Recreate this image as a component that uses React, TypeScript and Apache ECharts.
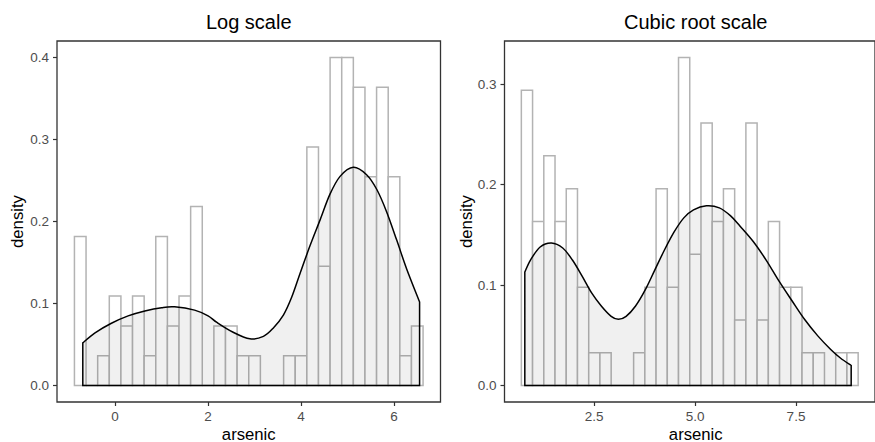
import { useEffect, useRef } from "react";
import * as echarts from "echarts";

// Histogram of the transformed arsenic values (counts per bin)
const sampleSize = 110;
const logBinStart = -0.875;
const logBinWidth = 0.25;
const logCounts = [5, 0, 1, 3, 2, 3, 1, 5, 2, 3, 6, 0, 2, 2, 1, 1, 0, 0, 1, 1, 8, 4, 11, 11, 10, 7, 10, 7, 1, 2];

const cbrtBinStart = 0.694;
const cbrtBinWidth = 0.2782;
const cbrtCounts = [9, 5, 7, 5, 6, 3, 1, 1, 0, 0, 1, 3, 6, 3, 10, 4, 8, 5, 6, 2, 8, 2, 5, 3, 3, 1, 1, 0, 1, 1];

// Kernel density estimate, sampled along the data range
const logDensityX = [-0.695, -0.44, -0.08, 0.28, 0.64, 1.0, 1.28, 1.71, 2.0, 2.19, 2.54, 2.9, 3.19, 3.4, 3.62, 3.8, 3.98, 4.19, 4.41, 4.62, 4.84, 5.125, 5.41, 5.63, 5.84, 6.06, 6.27, 6.55];
const logDensityY = [0.052, 0.064, 0.076, 0.085, 0.091, 0.095, 0.096, 0.092, 0.085, 0.077, 0.065, 0.057, 0.06, 0.07, 0.086, 0.108, 0.137, 0.17, 0.202, 0.233, 0.255, 0.266, 0.257, 0.239, 0.212, 0.177, 0.1425, 0.102];

const cbrtDensityX = [0.78, 0.92, 1.16, 1.44, 1.72, 1.96, 2.2, 2.44, 2.68, 2.92, 3.1, 3.29, 3.52, 3.76, 4.0, 4.24, 4.48, 4.72, 4.96, 5.28, 5.6, 5.88, 6.12, 6.44, 6.76, 7.08, 7.4, 7.72, 8.04, 8.36, 8.6, 8.867];
const cbrtDensityY = [0.113, 0.125, 0.138, 0.142, 0.137, 0.125, 0.109, 0.092, 0.079, 0.069, 0.066, 0.069, 0.079, 0.095, 0.115, 0.135, 0.153, 0.167, 0.175, 0.179, 0.177, 0.169, 0.1585, 0.1435, 0.125, 0.104, 0.0845, 0.0655, 0.0495, 0.036, 0.0275, 0.02];

const logXTicks = [0, 2, 4, 6];
const cbrtXTicks = [2.5, 5.0, 7.5];
const logYTicks = [0, 0.1, 0.2, 0.3, 0.4];
const cbrtYTicks = [0, 0.1, 0.2, 0.3];

const panelTitles = ["Log scale", "Cubic root scale"];
const xTitle = "arsenic";
const yTitle = "density";

const FONT = "'Liberation Sans', Arial, Helvetica, sans-serif";

function binRows(start: number, width: number, counts: number[]) {
  return counts.map((c, i) => [start + i * width, start + (i + 1) * width, c / (sampleSize * width)]);
}

function expand(lo: number, hi: number) {
  const pad = (hi - lo) * 0.05;
  return [lo - pad, hi + pad];
}

// Closed outline of a density: baseline, left edge, Catmull-Rom curve through the samples, right edge
function densityPath(pts: number[][], base0: number[], baseN: number[]) {
  const f = (v: number) => v.toFixed(2);
  let d = `M${f(base0[0])},${f(base0[1])} L${f(pts[0][0])},${f(pts[0][1])}`;
  for (let i = 0; i < pts.length - 1; i++) {
    const p0 = pts[i - 1] || pts[i];
    const p1 = pts[i];
    const p2 = pts[i + 1];
    const p3 = pts[i + 2] || pts[i + 1];
    const c1 = [p1[0] + (p2[0] - p0[0]) / 6, p1[1] + (p2[1] - p0[1]) / 6];
    const c2 = [p2[0] - (p3[0] - p1[0]) / 6, p2[1] - (p3[1] - p1[1]) / 6];
    d += ` C${f(c1[0])},${f(c1[1])} ${f(c2[0])},${f(c2[1])} ${f(p2[0])},${f(p2[1])}`;
  }
  d += ` L${f(baseN[0])},${f(baseN[1])} Z`;
  return d;
}

export default function App() {
  const ref = useRef<HTMLDivElement>(null);

  useEffect(() => {
    document.body.style.margin = "0";
    if (!ref.current) return;
    const chart = echarts.init(ref.current, undefined, { renderer: "svg" });

    const logBins = binRows(logBinStart, logBinWidth, logCounts);
    const cbrtBins = binRows(cbrtBinStart, cbrtBinWidth, cbrtCounts);

    const logX = expand(logBinStart, logBinStart + logCounts.length * logBinWidth);
    const cbrtX = expand(cbrtBinStart, cbrtBinStart + cbrtCounts.length * cbrtBinWidth);
    const logY = expand(0, Math.max(...logBins.map((b) => b[2])));
    const cbrtY = expand(0, Math.max(...cbrtBins.map((b) => b[2])));

    const grids = [
      { left: 57, top: 41, width: 383.5, height: 361 },
      { left: 504.5, top: 41, width: 382.5, height: 361 },
    ];

    const tickStyle = { color: "#333333", width: 1.2 };

    const xAxis = (gi: number, range: number[], ticks: number[], digits: number) => ({
      type: "value" as const,
      gridIndex: gi,
      min: range[0],
      max: range[1],
      axisLine: { show: false, onZero: false },
      splitLine: { show: false },
      axisTick: { show: true, length: 4, customValues: ticks, lineStyle: tickStyle },
      axisLabel: {
        customValues: ticks,
        margin: 7,
        color: "#4d4d4d",
        fontSize: 13.5,
        fontFamily: FONT,
        formatter: (v: number) => v.toFixed(digits),
      },
    });
    const yAxis = (gi: number, range: number[], ticks: number[]) => ({
      type: "value" as const,
      gridIndex: gi,
      min: range[0],
      max: range[1],
      axisLine: { show: false, onZero: false },
      splitLine: { show: false },
      axisTick: { show: true, length: 4, customValues: ticks, lineStyle: tickStyle },
      axisLabel: {
        customValues: ticks,
        margin: 8,
        color: "#4d4d4d",
        fontSize: 13.5,
        fontFamily: FONT,
        formatter: (v: number) => v.toFixed(1),
      },
    });

    const histSeries = (gi: number, rows: number[][]) => ({
      type: "custom" as const,
      xAxisIndex: gi,
      yAxisIndex: gi,
      data: rows,
      encode: { x: [0, 1], y: 2 },
      renderItem: (_p: any, api: any) => {
        const p0 = api.coord([api.value(0), 0]);
        const p1 = api.coord([api.value(1), api.value(2)]);
        return {
          type: "rect",
          shape: { x: p0[0], y: p1[1], width: p1[0] - p0[0], height: p0[1] - p1[1] },
          style: { fill: "#ffffff", stroke: "#b3b3b3", lineWidth: 1.5 },
        };
      },
    });

    const densitySeries = (gi: number, xs: number[], ys: number[]) => ({
      type: "custom" as const,
      xAxisIndex: gi,
      yAxisIndex: gi,
      data: xs.map((x, i) => [x, ys[i]]),
      encode: { x: 0, y: 1 },
      renderItem: (params: any, api: any) => {
        if (params.dataIndex !== 0) return null;
        const pts = xs.map((x, i) => api.coord([x, ys[i]]));
        const b0 = api.coord([xs[0], 0]);
        const bn = api.coord([xs[xs.length - 1], 0]);
        return {
          type: "path",
          shape: { pathData: densityPath(pts, b0, bn) },
          style: { fill: "rgba(0,0,0,0.06)", stroke: "#000000", lineWidth: 1.5 },
        };
      },
    });

    const text = (x: number, y: number, s: string, size: number, rotation = 0) => ({
      type: "text" as const,
      x,
      y,
      rotation,
      style: {
        text: s,
        fontSize: size,
        fontFamily: FONT,
        fill: "#000000",
        align: "center",
        verticalAlign: "middle",
      },
    });

    const c0 = grids[0].left + grids[0].width / 2;
    const c1 = grids[1].left + grids[1].width / 2;
    const midY = grids[0].top + grids[0].height / 2;

    chart.setOption({
      animation: false,
      backgroundColor: "#ffffff",
      grid: grids.map((g) => ({ ...g, show: true, borderColor: "#333333", borderWidth: 1.3, backgroundColor: "transparent" })),
      xAxis: [xAxis(0, logX, logXTicks, 0), xAxis(1, cbrtX, cbrtXTicks, 1)],
      yAxis: [yAxis(0, logY, logYTicks), yAxis(1, cbrtY, cbrtYTicks)],
      series: [
        histSeries(0, logBins),
        densitySeries(0, logDensityX, logDensityY),
        histSeries(1, cbrtBins),
        densitySeries(1, cbrtDensityX, cbrtDensityY),
      ],
      graphic: [
        text(c0, 22.4, panelTitles[0], 20),
        text(c1, 22.4, panelTitles[1], 20),
        text(c0, 434, xTitle, 16.7),
        text(c1, 434, xTitle, 16.7),
        text(17.5, midY, yTitle, 16.7, Math.PI / 2),
        text(466.5, midY, yTitle, 16.7, Math.PI / 2),
      ],
    });

    return () => chart.dispose();
  }, []);

  return <div ref={ref} style={{ width: 875, height: 442 }} />;
}
